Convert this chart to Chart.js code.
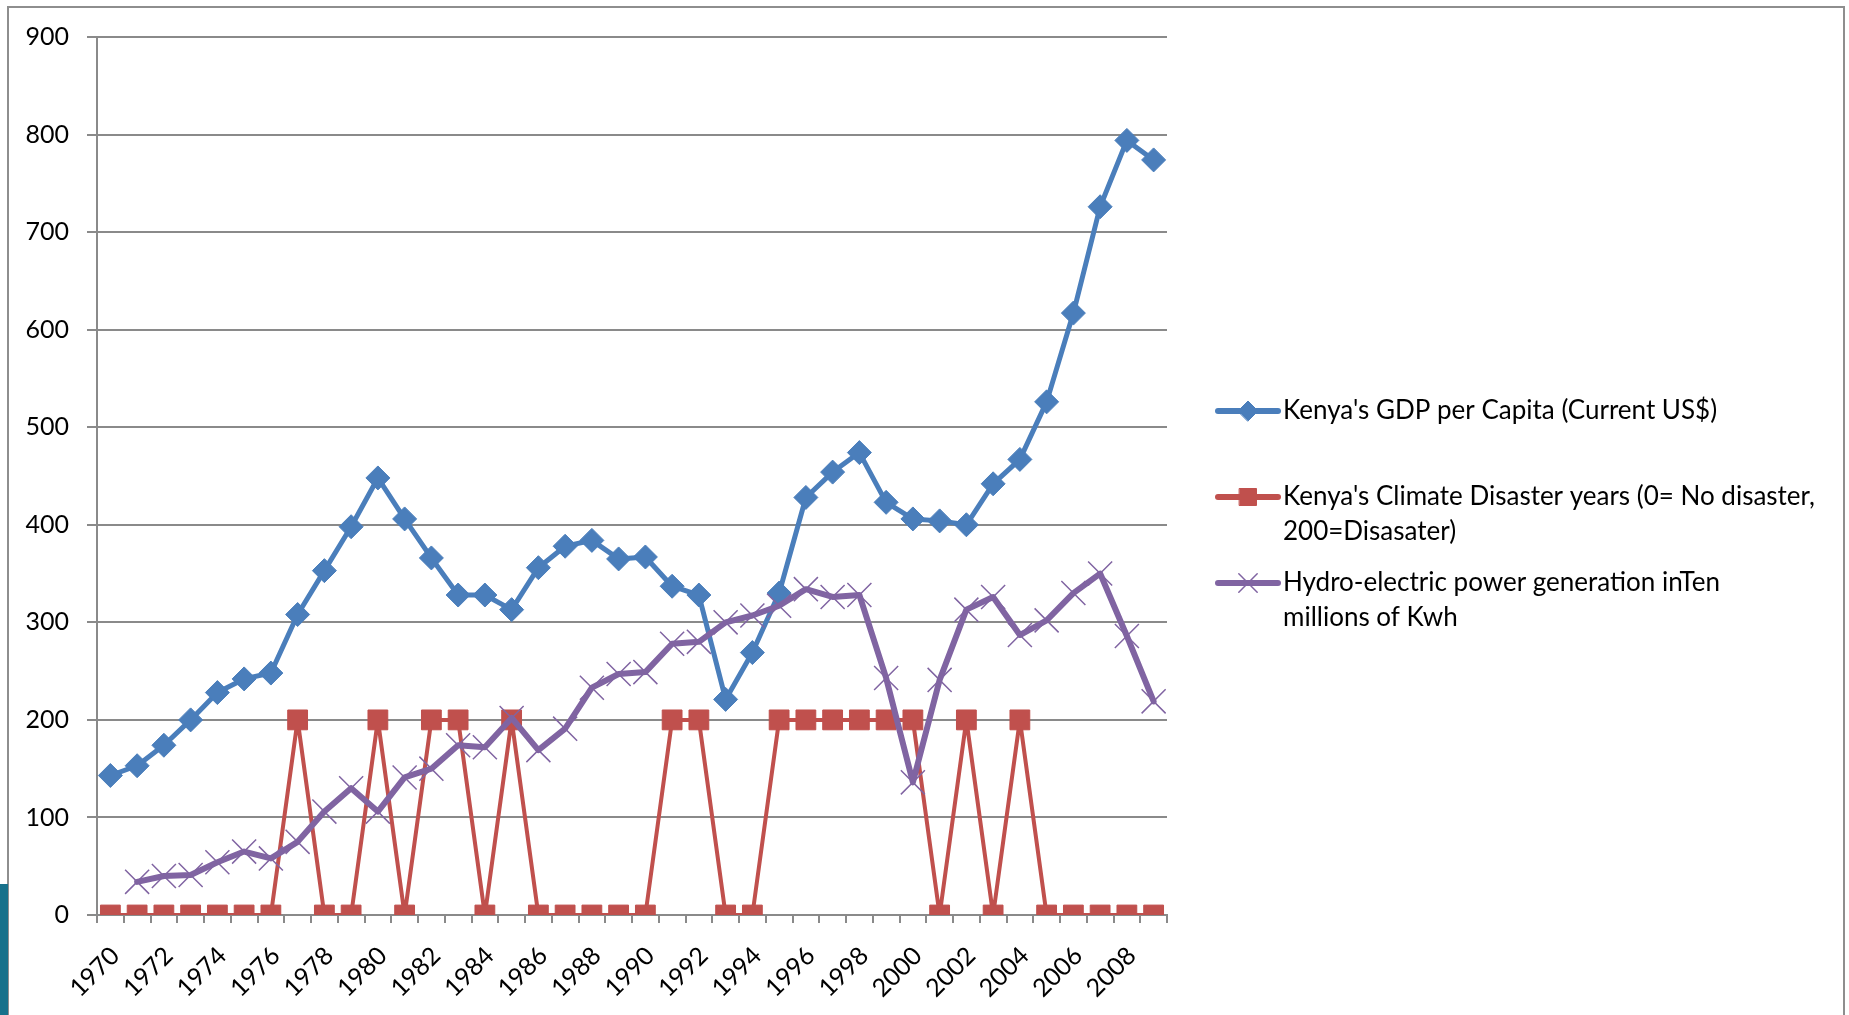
<!DOCTYPE html>
<html>
<head>
<meta charset="utf-8">
<title>Kenya GDP, climate disasters and hydro power</title>
<script src="https://cdn.jsdelivr.net/npm/chart.js@4.4.1/dist/chart.umd.min.js"></script>
<style>
  html, body { margin: 0; padding: 0; background: #fff; overflow: hidden; }
  #wrap { position: relative; width: 1849px; height: 1015px; }
  #frame {
    position: absolute; left: 7px; top: 6px; width: 1838px; height: 1040px;
    border: 2px solid #8e8e8e; box-sizing: border-box;
  }
  #edge { position: absolute; left: 0; top: 884px; width: 8px; height: 131px; background: #17718b; }
  canvas { position: absolute; left: 0; top: 0; }
</style>
</head>
<body>
<div id="wrap">
  <div id="frame"></div>
  <div id="edge"></div>
  <canvas id="chart" width="1849" height="1015"></canvas>
</div>
<script>
const years = [
  '1970', '1971', '1972', '1973', '1974', '1975', '1976', '1977', '1978', '1979',
  '1980', '1981', '1982', '1983', '1984', '1985', '1986', '1987', '1988', '1989',
  '1990', '1991', '1992', '1993', '1994', '1995', '1996', '1997', '1998', '1999',
  '2000', '2001', '2002', '2003', '2004', '2005', '2006', '2007', '2008', '2009'
];

const gdpPerCapita = [
  143, 153, 174, 200, 228, 242, 248, 308, 353, 398,
  448, 406, 366, 328, 328, 313, 356, 378, 384, 365,
  367, 337, 328, 221, 269, 330, 428, 454, 474, 423,
  406, 404, 400, 442, 467, 526, 617, 726, 794, 774
];

const disasterYears = [
  0, 0, 0, 0, 0, 0, 0, 200, 0, 0,
  200, 0, 200, 200, 0, 200, 0, 0, 0, 0,
  0, 200, 200, 0, 0, 200, 200, 200, 200, 200,
  200, 0, 200, 0, 200, 0, 0, 0, 0, 0
];

const hydroPower = [
  null, 34, 40, 41, 54, 65, 58, 75, 106, 130,
  106, 141, 150, 174, 172, 202, 169, 191, 233, 247,
  249, 278, 280, 300, 307, 317, 334, 326, 328, 243,
  136, 241, 313, 326, 287, 302, 330, 350, 286, 219
];

// legend text, already broken into lines the way the original wraps it
const seriesLabels = [
  ["Kenya's GDP per Capita (Current US$)"],
  ["Kenya's Climate Disaster years (0= No disaster,", "200=Disasater)"],
  ["Hydro-electric power generation inTen", "millions of Kwh"]
];

const yTicks = [0, 100, 200, 300, 400, 500, 600, 700, 800, 900];

const FONT = "Lato, 'Liberation Sans', sans-serif";
const GRID = '#8a8a8a';

// legend on the right, drawn by hand so the long names can wrap
const sideLegend = {
  id: 'sideLegend',
  afterDraw(chart) {
    const ctx = chart.ctx;
    const x0 = chart.chartArea.right + 51;
    const lineH = 35;
    let y = 411;
    ctx.save();
    chart.data.datasets.forEach((ds, i) => {
      ctx.strokeStyle = ds.borderColor;
      ctx.fillStyle = ds.borderColor;
      ctx.lineWidth = 6;
      ctx.lineCap = 'round';
      ctx.beginPath();
      ctx.moveTo(x0, y);
      ctx.lineTo(x0 + 60, y);
      ctx.stroke();
      ctx.lineWidth = ds.pointBorderWidth;
      Chart.helpers.drawPoint(ctx, {
        pointStyle: ds.pointStyle,
        radius: ds.legendRadius,
        borderWidth: ds.pointBorderWidth,
        rotation: 0
      }, x0 + 30, y);
      ctx.fillStyle = '#000';
      ctx.font = '26px ' + FONT;
      ctx.textBaseline = 'middle';
      ctx.textAlign = 'left';
      seriesLabels[i].forEach((line, k) => {
        ctx.fillText(line, x0 + 65, y + k * lineH);
      });
      y += 86;
    });
    ctx.restore();
  }
};

new Chart(document.getElementById('chart'), {
  type: 'line',
  data: {
    labels: years,
    datasets: [
      {
        label: seriesLabels[0].join(' '),
        data: gdpPerCapita,
        borderColor: '#4a7ebb',
        backgroundColor: '#4a7ebb',
        borderWidth: 5,
        pointStyle: 'rectRot',
        pointRadius: 12,
        legendRadius: 10,
        pointBorderWidth: 1,
        pointBackgroundColor: '#4a7ebb',
        pointBorderColor: '#4a7ebb',
        order: 2
      },
      {
        label: seriesLabels[1].join(' '),
        data: disasterYears,
        borderColor: '#c0504d',
        backgroundColor: '#c0504d',
        borderWidth: 4,
        pointStyle: 'rect',
        pointRadius: 14,
        legendRadius: 12,
        pointBorderWidth: 1,
        pointBackgroundColor: '#c0504d',
        pointBorderColor: '#c0504d',
        order: 1
      },
      {
        label: seriesLabels[2].join(' '),
        data: hydroPower,
        borderColor: '#8064a2',
        backgroundColor: '#8064a2',
        borderWidth: 6,
        pointStyle: 'crossRot',
        pointRadius: 17,
        legendRadius: 13,
        pointBorderWidth: 1.5,
        pointBackgroundColor: '#8064a2',
        pointBorderColor: '#8064a2',
        order: 0
      }
    ]
  },
  options: {
    responsive: false,
    animation: false,
    events: [],
    elements: {
      line: { tension: 0, borderJoinStyle: 'round', borderCapStyle: 'round' },
      point: { hoverRadius: 0 }
    },
    layout: { padding: { left: 0, top: 37, right: 682, bottom: 0 } },
    scales: {
      x: {
        offset: true,
        afterFit: (scale) => { scale.height = 100; },
        grid: {
          offset: true,
          drawOnChartArea: false,
          drawTicks: true,
          tickLength: 8,
          color: GRID,
          lineWidth: 2
        },
        border: { display: true, color: GRID, width: 2 },
        ticks: {
          autoSkip: false,
          maxRotation: 45,
          minRotation: 45,
          padding: 18,
          labelOffset: 5,
          color: '#000',
          font: { family: FONT, size: 25 },
          callback: (value, index) => (index % 2 === 0 ? years[index] : '')
        }
      },
      y: {
        min: yTicks[0],
        max: yTicks[yTicks.length - 1],
        afterFit: (scale) => { scale.width = 97; },
        afterBuildTicks: (scale) => { scale.ticks = yTicks.map(v => ({ value: v })); },
        grid: { color: GRID, lineWidth: 2, tickLength: 10 },
        border: { display: true, color: GRID, width: 2 },
        ticks: {
          padding: 18,
          color: '#000',
          font: { family: FONT, size: 25 }
        }
      }
    },
    plugins: {
      legend: { display: false },
      tooltip: { enabled: false }
    }
  },
  plugins: [sideLegend]
});
</script>
</body>
</html>
